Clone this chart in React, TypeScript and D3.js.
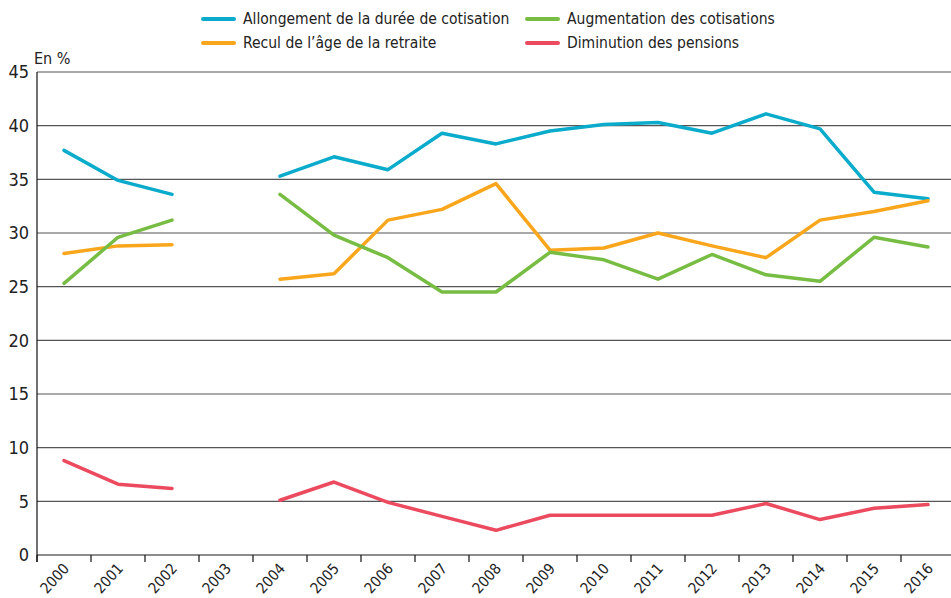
import * as d3 from "d3";

const years = ["2000", "2001", "2002", "2003", "2004", "2005", "2006", "2007", "2008", "2009", "2010", "2011", "2012", "2013", "2014", "2015", "2016"];

const allongement = [37.7, 34.9, 33.6, null, 35.3, 37.1, 35.9, 39.3, 38.3, 39.5, 40.1, 40.3, 39.3, 41.1, 39.7, 33.8, 33.2];
const recul = [28.1, 28.8, 28.9, null, 25.7, 26.2, 31.2, 32.2, 34.6, 28.4, 28.6, 30.0, 28.8, 27.7, 31.2, 32.0, 33.0];
const augmentation = [25.3, 29.6, 31.2, null, 33.6, 29.8, 27.7, 24.5, 24.5, 28.2, 27.5, 25.7, 28.0, 26.1, 25.5, 29.6, 28.7];
const diminution = [8.8, 6.6, 6.2, null, 5.1, 6.8, 4.9, 3.6, 2.3, 3.7, 3.7, 3.7, 3.7, 4.8, 3.3, 4.35, 4.7];

const yTicks = [0, 5, 10, 15, 20, 25, 30, 35, 40, 45];

const series = [
  { name: "Allongement de la durée de cotisation", values: allongement, color: "#0aabcb" },
  { name: "Recul de l’âge de la retraite", values: recul, color: "#f9a61c" },
  { name: "Augmentation des cotisations", values: augmentation, color: "#77bd43" },
  { name: "Diminution des pensions", values: diminution, color: "#ec4a5f" },
];

const W = 951;
const H = 598;
const M = { top: 72, right: -4, bottom: 43, left: 37 };
const FONT = "'Liberation Sans Narrow', 'DejaVu Sans Condensed', 'Roboto', sans-serif";

export default function App() {
  const x = d3.scaleBand<string>().domain(years).range([M.left, W - M.right]).paddingInner(0).paddingOuter(0);
  const y = d3.scaleLinear().domain([0, 45]).range([H - M.bottom, M.top]);
  const cx = (i: number) => x(years[i])! + x.bandwidth() / 2;

  const line = d3.line<number | null>()
    .defined(d => d != null)
    .x((_, i) => cx(i))
    .y(d => y(d as number));

  // legend layout: two columns, two rows
  const legend = [
    { s: series[0], lx: 203, ly: 19 },
    { s: series[1], lx: 203, ly: 43 },
    { s: series[2], lx: 527, ly: 19 },
    { s: series[3], lx: 527, ly: 43 },
  ];

  return (
    <svg width={W} height={H} style={{ position: "absolute", left: 0, top: 0, background: "#fff" }} fontFamily={FONT}>
      {/* legend */}
      {legend.map(({ s, lx, ly }) => (
        <g key={s.name}>
          <line x1={lx} x2={lx + 31} y1={ly} y2={ly} stroke={s.color} strokeWidth={4} strokeLinecap="round" />
          <text x={lx + 40} y={ly} dy="0.35em" fontSize={15.5} fill="#222">{s.name}</text>
        </g>
      ))}

      {/* unit */}
      <text x={34} y={58} dy="0.35em" fontSize={16} fill="#222">En %</text>

      {/* grid */}
      {yTicks.filter(t => t > 0).map(t => (
        <line key={t} x1={M.left} x2={W} y1={y(t)} y2={y(t)} stroke="#555" strokeWidth={1.2} />
      ))}
      {yTicks.map(t => (
        <text key={"l" + t} x={29} y={y(t)} dy="0.35em" textAnchor="end" fontSize={18} fill="#222">{t}</text>
      ))}

      {/* x axis */}
      <line x1={M.left} x2={W} y1={y(0)} y2={y(0)} stroke="#666" strokeWidth={1.5} />
      <line x1={M.left} x2={M.left} y1={y(45)} y2={y(0) + 7} stroke="#111" strokeWidth={1.2} />
      {years.map(yr => (
        <line key={"t" + yr} x1={x(yr)!} x2={x(yr)!} y1={y(0)} y2={y(0) + 7} stroke="#111" strokeWidth={1.2} />
      ))}
      {years.map((yr, i) => (
        <text key={"x" + yr} transform={`translate(${cx(i) + 6},${y(0) + 14}) rotate(-48)`} textAnchor="end" fontSize={15} fill="#222">{yr}</text>
      ))}

      {/* series */}
      {series.map(s => (
        <path key={s.name} d={line(s.values) ?? ""} fill="none" stroke={s.color} strokeWidth={3.5} strokeLinejoin="round" strokeLinecap="round" />
      ))}
    </svg>
  );
}
